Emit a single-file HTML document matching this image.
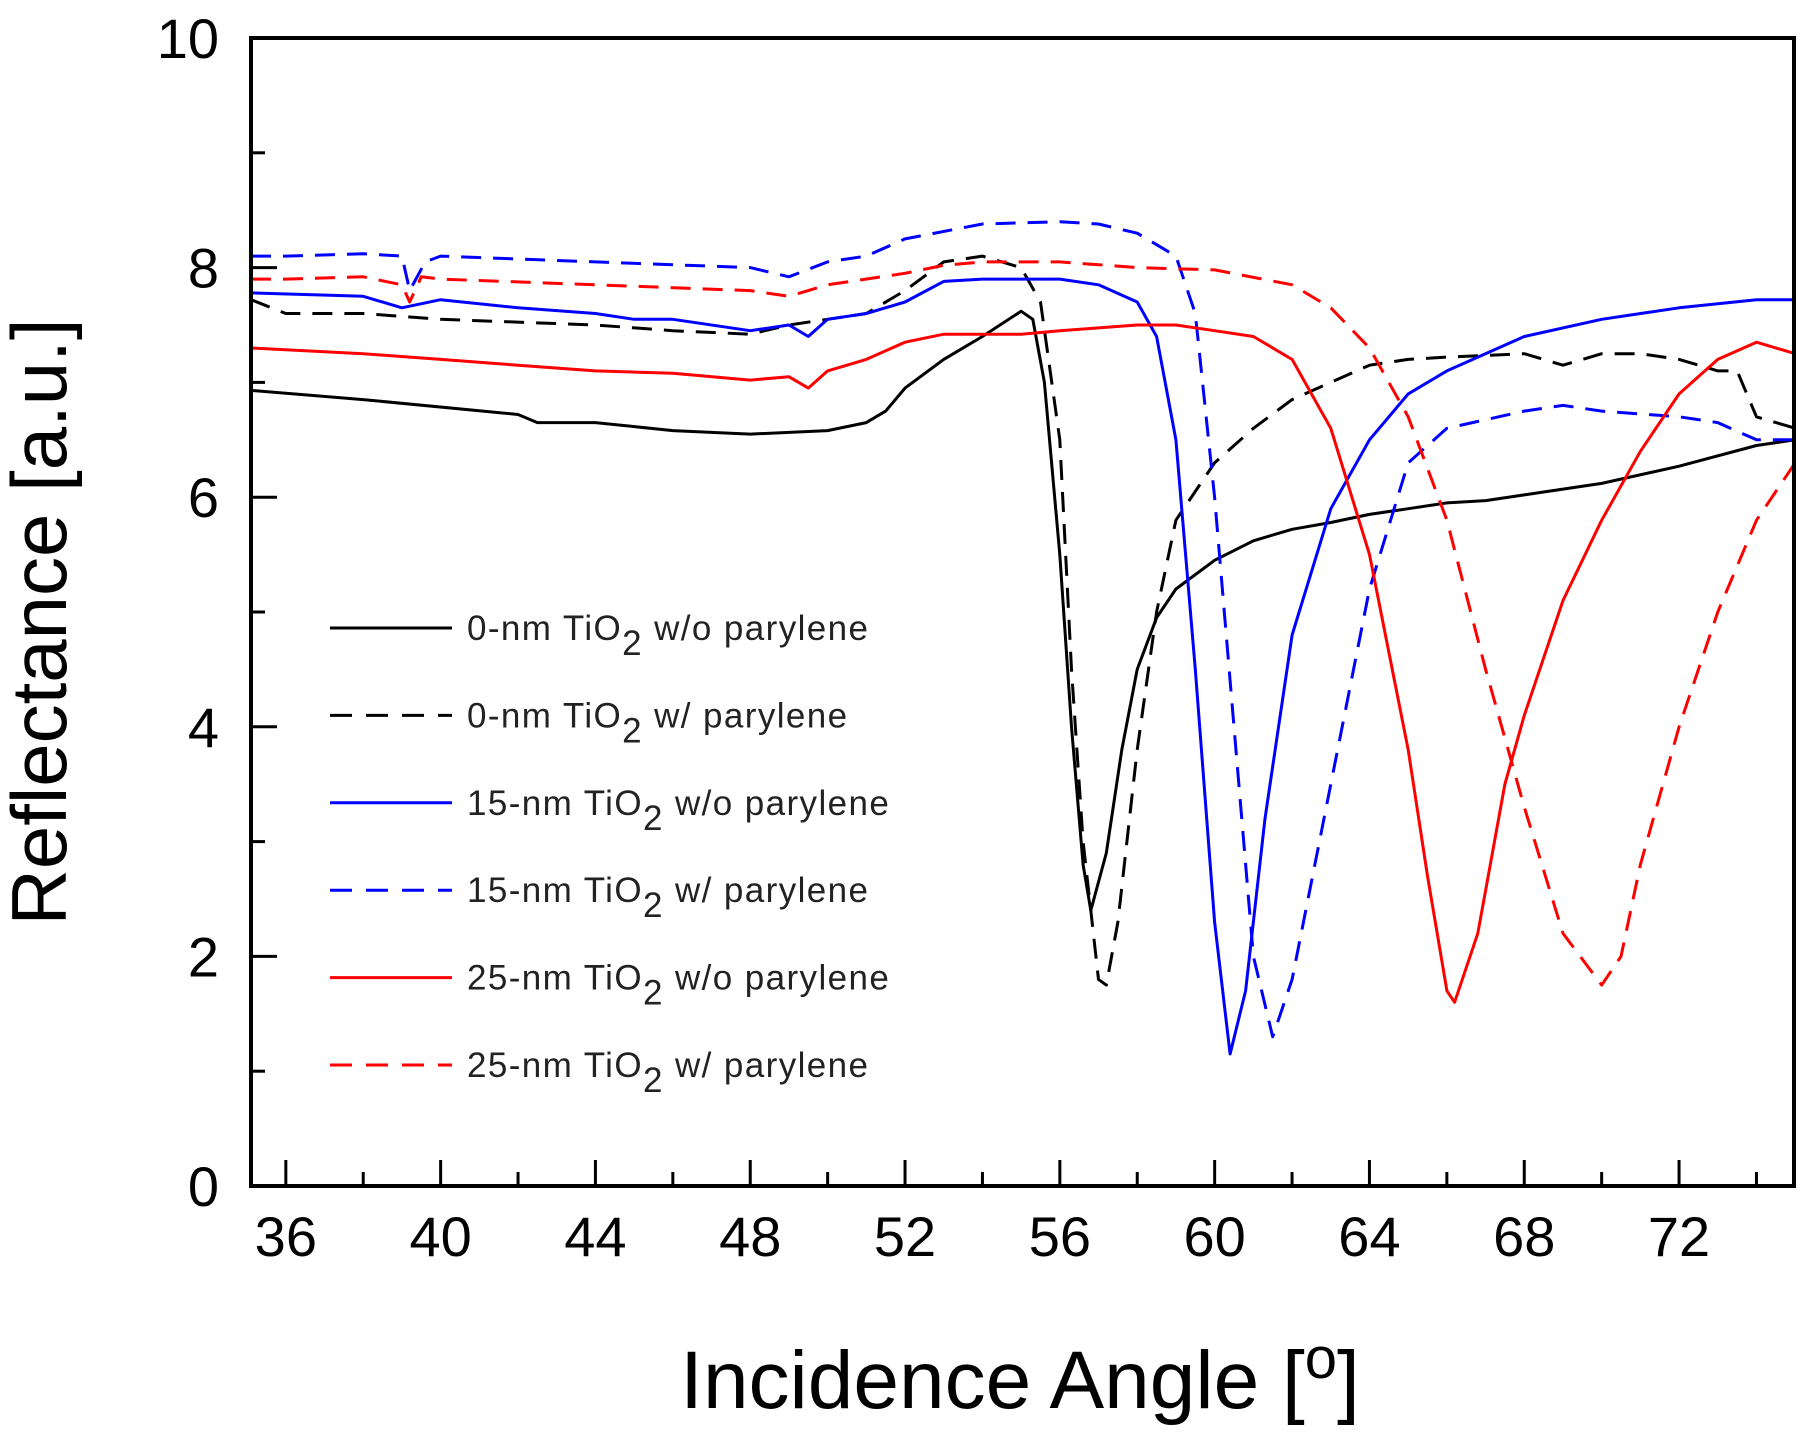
<!DOCTYPE html>
<html><head><meta charset="utf-8"><style>
html,body{margin:0;padding:0;background:#fff}
svg{display:block;font-family:"Liberation Sans",Arial,sans-serif}
</style></head><body>
<svg id="chart" width="1807" height="1433" viewBox="0 0 1807 1433" xmlns="http://www.w3.org/2000/svg">
<g id="series"></g>
<g id="axes"></g>
<g id="legend"></g>
<text x="1020" y="1408" font-size="82" text-anchor="middle">Incidence Angle [<tspan font-size="58" dy="-30">o</tspan><tspan dy="30">]</tspan></text>
<text transform="translate(66,622) rotate(-90)" font-size="78" text-anchor="middle">Reflectance [a.u.]</text>
</svg>
<script>
const xTicks=[36,40,44,48,52,56,60,64,68,72];
const yTicks=[0,2,4,6,8,10];
const ang_k0=[35.1,38,42,42.5,44,46,48,50,51,51.5,52,53,54,55,55.3,55.6,56,56.3,56.6,56.8,57.2,57.6,58,58.5,59,60,61,62,63,64,65,66,67,68,70,72,74,75];
const val_k0=[6.93,6.85,6.72,6.65,6.65,6.58,6.55,6.58,6.65,6.75,6.95,7.2,7.4,7.62,7.55,7.0,5.5,4.0,2.8,2.4,2.9,3.8,4.5,4.95,5.2,5.45,5.62,5.72,5.78,5.85,5.9,5.95,5.97,6.02,6.12,6.27,6.45,6.5];
const ang_k1=[35.1,36,38,40,44,46,48,49,50,51,52,53,54,55,55.5,56,56.3,56.6,57,57.2,57.5,58,58.5,59,60,61,62,63,64,65,66,68,69,70,71,72,73,73.5,74,75];
const val_k1=[7.72,7.6,7.6,7.55,7.5,7.45,7.42,7.5,7.55,7.6,7.8,8.05,8.1,8.0,7.7,6.5,4.5,3.0,1.8,1.75,2.3,3.8,5.0,5.8,6.3,6.6,6.85,7.0,7.15,7.2,7.22,7.25,7.15,7.25,7.25,7.2,7.1,7.1,6.7,6.6];
const ang_b0=[35.1,38,39,40,42,44,45,46,48,49,49.5,50,51,52,53,54,56,57,58,58.5,59,59.5,60,60.4,60.8,61.3,62,63,64,65,66,68,70,72,74,75];
const val_b0=[7.78,7.75,7.65,7.72,7.65,7.6,7.55,7.55,7.45,7.5,7.4,7.55,7.6,7.7,7.88,7.9,7.9,7.85,7.7,7.4,6.5,4.5,2.3,1.15,1.7,3.2,4.8,5.9,6.5,6.9,7.1,7.4,7.55,7.65,7.72,7.72];
const ang_b1=[35.1,36,38,39,39.2,39.6,40,44,48,49,50,51,52,54,56,57,58,59,59.5,60,60.5,61,61.5,62,63,64,65,66,68,69,70,72,73,74,75];
const val_b1=[8.1,8.1,8.12,8.1,7.8,8.05,8.1,8.05,8.0,7.92,8.05,8.1,8.25,8.38,8.4,8.38,8.3,8.1,7.6,6.0,4.0,2.0,1.3,1.8,3.5,5.2,6.3,6.6,6.75,6.8,6.75,6.7,6.65,6.5,6.5];
const ang_r0=[35.1,38,40,42,44,46,48,49,49.5,50,51,52,53,55,56,58,59,60,61,62,63,64,65,65.5,66,66.2,66.8,67.5,68,69,70,71,72,73,74,75];
const val_r0=[7.3,7.25,7.2,7.15,7.1,7.08,7.02,7.05,6.95,7.1,7.2,7.35,7.42,7.42,7.45,7.5,7.5,7.45,7.4,7.2,6.6,5.5,3.8,2.7,1.7,1.6,2.2,3.5,4.1,5.1,5.8,6.4,6.9,7.2,7.35,7.25];
const ang_r1=[35.1,36,38,39,39.2,39.5,40,44,48,49,50,52,53,54,56,58,60,62,63,64,65,66,67,68,69,70,70.5,71,72,73,74,75];
const val_r1=[7.9,7.9,7.92,7.85,7.7,7.92,7.9,7.85,7.8,7.75,7.85,7.95,8.02,8.05,8.05,8.0,7.98,7.85,7.65,7.3,6.7,5.8,4.5,3.3,2.2,1.75,2.0,2.8,4.0,5.0,5.8,6.3];
const seriesLabels=["0-nm","0-nm","15-nm","15-nm","25-nm","25-nm"];
const seriesKinds=["w/o","w/","w/o","w/","w/o","w/"];

const L=251,R=1794,T=38,B=1186,X0=35.1,X1=74.97,Y0=0,Y1=10;
const sx=v=>L+(v-X0)/(X1-X0)*(R-L);
const sy=v=>B-(v-Y0)/(Y1-Y0)*(B-T);
const NS="http://www.w3.org/2000/svg";
function mk(tag,parent){const e=document.createElementNS(NS,tag);parent.appendChild(e);return e;}
const sg=document.getElementById('series');
const defs=[[ang_k0,val_k0,'#000',false,'series-0nm-without-parylene'],[ang_k1,val_k1,'#000',true,'series-0nm-with-parylene'],
[ang_b0,val_b0,'#0000ff',false,'series-15nm-without-parylene'],[ang_b1,val_b1,'#0000ff',true,'series-15nm-with-parylene'],
[ang_r0,val_r0,'#ff0000',false,'series-25nm-without-parylene'],[ang_r1,val_r1,'#ff0000',true,'series-25nm-with-parylene']];
defs.forEach(d=>{
  const p=mk('path',sg);
  
  
  p.setAttribute('d',d[0].map((a,i)=>(i?'L':'M')+sx(a).toFixed(1)+','+sy(d[1][i]).toFixed(1)).join(''));
  p.setAttribute('fill','none');p.setAttribute('stroke',d[2]);p.setAttribute('stroke-width','3');
  p.setAttribute('stroke-linejoin','round');
  if(d[3])p.setAttribute('stroke-dasharray','20 12');
});
const ax=document.getElementById('axes');
const fr=mk('rect',ax);


fr.setAttribute('x',L);fr.setAttribute('y',T);fr.setAttribute('width',R-L);fr.setAttribute('height',B-T);
fr.setAttribute('fill','none');fr.setAttribute('stroke','#000');fr.setAttribute('stroke-width','4');
for(let v=36;v<=74;v+=2){
  const major=xTicks.includes(v);const t=mk('line',ax);
  
  
  t.setAttribute('x1',sx(v));t.setAttribute('x2',sx(v));t.setAttribute('y1',B);t.setAttribute('y2',B-(major?26:14));
  t.setAttribute('stroke','#000');t.setAttribute('stroke-width','3');
}
xTicks.forEach(v=>{const t=mk('text',ax);
  
  
  t.setAttribute('x',sx(v));t.setAttribute('y',1256);t.setAttribute('font-size','56');t.setAttribute('text-anchor','middle');t.textContent=v;});
for(let v=1;v<10;v++){
  const major=yTicks.includes(v);const t=mk('line',ax);
  
  
  t.setAttribute('x1',L);t.setAttribute('x2',L+(major?26:14));t.setAttribute('y1',sy(v));t.setAttribute('y2',sy(v));
  t.setAttribute('stroke','#000');t.setAttribute('stroke-width','3');
}
yTicks.forEach(v=>{const t=mk('text',ax);
  
  
  t.setAttribute('x',219);t.setAttribute('y',sy(v)+20);t.setAttribute('font-size','56');t.setAttribute('text-anchor','end');t.textContent=v;});
const lg=document.getElementById('legend');
defs.forEach((d,i)=>{
  const y=628+i*87.4;
  const l=mk('line',lg);
  
  
  l.setAttribute('x1',330);l.setAttribute('x2',452);l.setAttribute('y1',y);l.setAttribute('y2',y);
  l.setAttribute('stroke',d[2]);l.setAttribute('stroke-width','3');
  if(d[3])l.setAttribute('stroke-dasharray','22 14');
  const t=mk('text',lg);
  
  
  t.setAttribute('x',467);t.setAttribute('y',y+12);t.setAttribute('font-size','35');t.setAttribute('letter-spacing','1.4');t.setAttribute('fill','#222');
  t.innerHTML=seriesLabels[i]+' TiO<tspan dy="15">2</tspan><tspan dy="-15"> '+seriesKinds[i]+' parylene</tspan>';
});
</script>
</body></html>
